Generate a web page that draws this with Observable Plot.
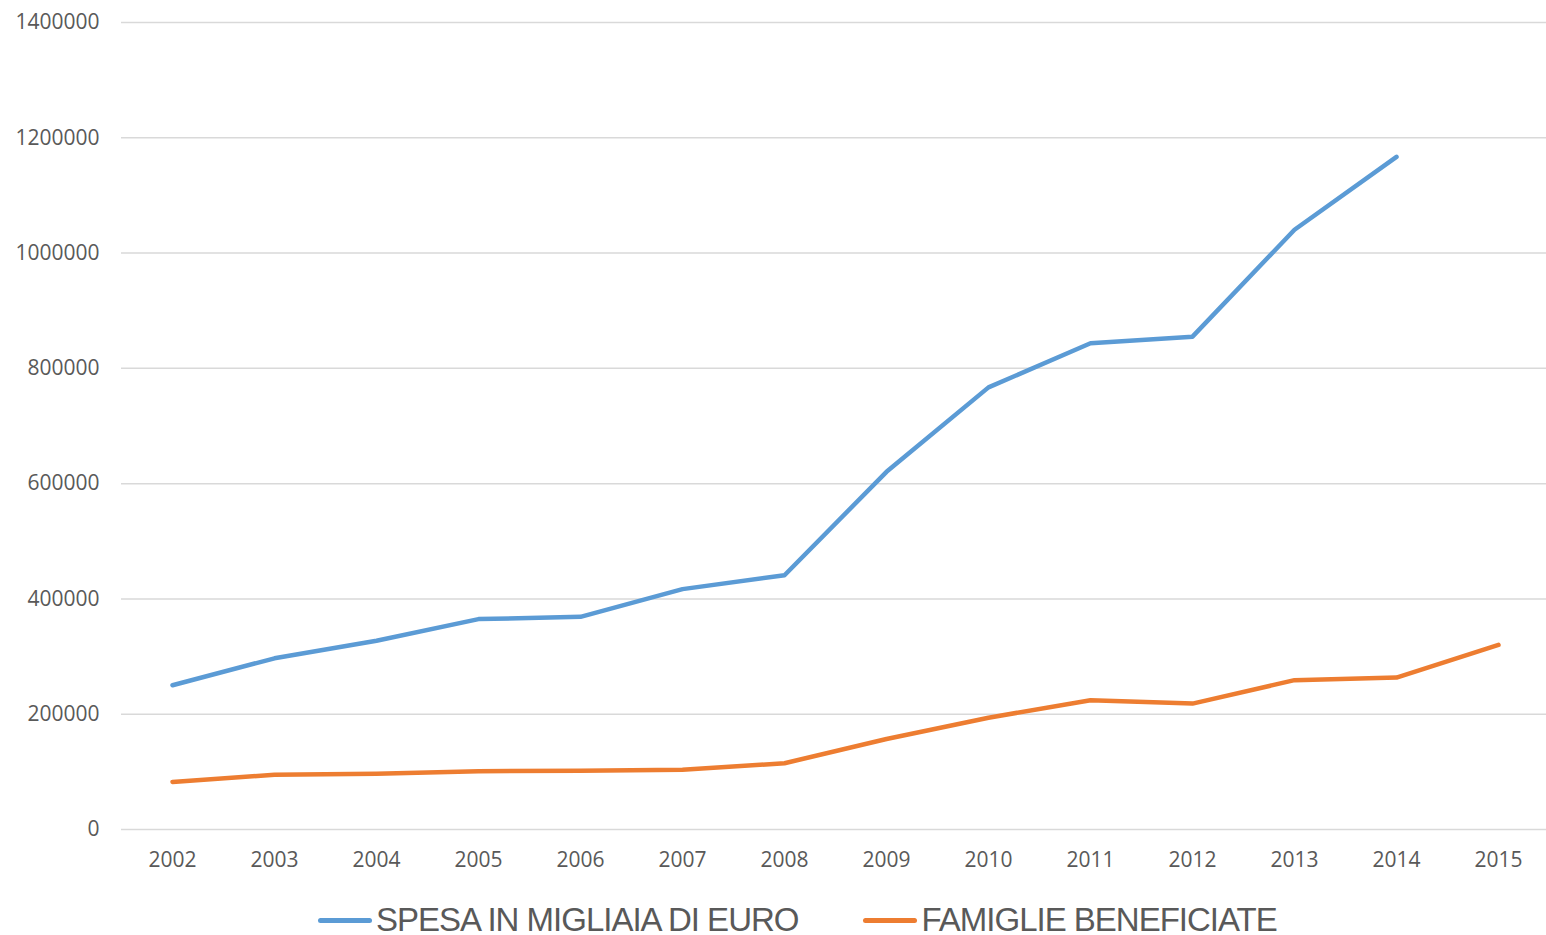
<!DOCTYPE html>
<html>
<head>
<meta charset="utf-8">
<script src="https://cdn.jsdelivr.net/npm/d3@7"></script>
<script src="https://cdn.jsdelivr.net/npm/@observablehq/plot@0.6"></script>
<style>
  html, body { margin: 0; padding: 0; background: #fff; }
  #chart { width: 1546px; }
  .legend { display: flex; justify-content: flex-start; align-items: center; gap: 65px; margin-top: 20px; padding-left: 318px;
    height: 40px; font-family: "Liberation Sans Narrow", "Liberation Sans", sans-serif; font-size: 33px; letter-spacing: -1px; color: #595959; }
  .legend .item { display: flex; align-items: center; gap: 4px; }
  .legend .sw { width: 54px; height: 5px; border-radius: 3px; display: inline-block; }
</style>
</head>
<body>
<div id="chart"></div>
<script>
const years = ["2002","2003","2004","2005","2006","2007","2008","2009","2010","2011","2012","2013","2014","2015"];
const seriesNames = ["SPESA IN MIGLIAIA DI EURO", "FAMIGLIE BENEFICIATE"];
const seriesColors = ["#5b9bd5", "#ed7d31"];
const spesa = [250300, 297000, 327500, 365000, 369000, 417000, 441000, 620500, 767000, 843500, 855000, 1040500, 1167000, null];
const famiglie = [82500, 95100, 96900, 101000, 102000, 103800, 114900, 157100, 194000, 224300, 218400, 259100, 263500, 320300];
const yTicks = [0, 200000, 400000, 600000, 800000, 1000000, 1200000, 1400000];

const rows = [];
years.forEach((y, i) => {
  if (spesa[i] != null) rows.push({year: y, value: spesa[i], series: seriesNames[0]});
});
years.forEach((y, i) => {
  if (famiglie[i] != null) rows.push({year: y, value: famiglie[i], series: seriesNames[1]});
});

const chart = Plot.plot({
  width: 1546,
  height: 880,
  marginLeft: 121,
  marginRight: 0,
  marginTop: 22,
  marginBottom: 51,
  style: { fontFamily: "'Open Sans', sans-serif", fontSize: "21px", color: "#595959", background: "#fff" },
  x: { type: "point", domain: years, padding: 0.5, round: false, range: [121, 1549], label: null },
  y: { domain: [0, 1400000], label: null },
  color: { domain: seriesNames, range: seriesColors },
  marks: [
    Plot.ruleY(yTicks, { stroke: "#d9d9d9", strokeWidth: 1.5 }),
    Plot.axisY({ ticks: yTicks, tickSize: 0, tickPadding: 22, tickFormat: d => String(d), label: null, fontSize: 21, fill: "#595959" }),
    Plot.axisX({ tickSize: 0, tickPadding: 23, label: null, fontSize: 21, fill: "#595959" }),
    Plot.line(rows, { x: "year", y: "value", z: "series", stroke: "series", strokeWidth: 4.5, strokeLinecap: "round", strokeLinejoin: "round" })
  ]
});
document.getElementById("chart").appendChild(chart);

const legend = document.createElement("div");
legend.className = "legend";
seriesNames.forEach((name, i) => {
  const item = document.createElement("div");
  item.className = "item";
  const sw = document.createElement("span");
  sw.className = "sw";
  sw.style.background = seriesColors[i];
  const tx = document.createElement("span");
  tx.textContent = name;
  item.appendChild(sw);
  item.appendChild(tx);
  legend.appendChild(item);
});
document.getElementById("chart").appendChild(legend);
</script>
</body>
</html>
